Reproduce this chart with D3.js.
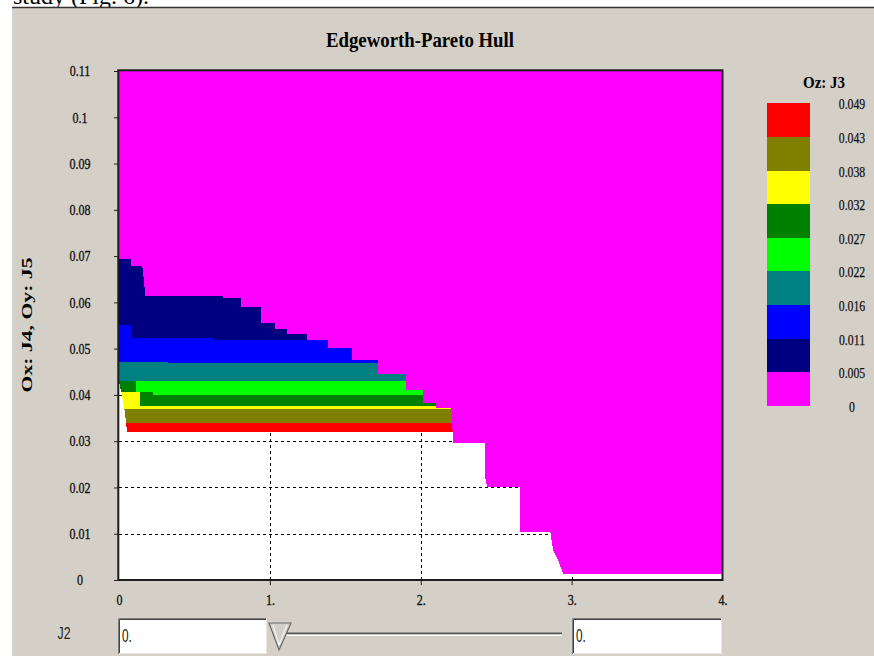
<!DOCTYPE html>
<html>
<head>
<meta charset="utf-8">
<script src="https://cdn.jsdelivr.net/npm/d3@7"></script>
<style>
  body { margin: 0; background: #fff; }
  svg { display: block; }
</style>
</head>
<body>
<svg id="chart" width="874" height="656"></svg>
<script>
// Oz: J3 levels, legend top to bottom
const levelLabels = ['0.049', '0.043', '0.038', '0.032', '0.027', '0.022', '0.016', '0.011', '0.005', '0'];
const levelColors = ['#ff0000', '#808000', '#ffff00', '#008000', '#00ff00', '#008080', '#0000ff', '#000080', '#ff00ff'];

const yTicks = [0, 0.01, 0.02, 0.03, 0.04, 0.05, 0.06, 0.07, 0.08, 0.09, 0.1, 0.11];
const yTickLabels = ['0', '0.01', '0.02', '0.03', '0.04', '0.05', '0.06', '0.07', '0.08', '0.09', '0.1', '0.11'];
const xTicks = [0, 1, 2, 3, 4];
const xTickLabels = ['0', '1.', '2.', '3.', '4.'];

// lower-left boundary of each hull, [J4, J5]
const redFront = [[0, 0.0427], [0.015, 0.0407], [0.036, 0.0369], [0.048, 0.0339], [0.052, 0.0320]];
const oliveFront = [[0, 0.0427], [0.015, 0.0407], [0.036, 0.0369], [0.048, 0.0339]];
const yellowFront = [[0, 0.0427], [0.015, 0.0407], [0.036, 0.0369]];
const greenFront = [[0, 0.0427], [0.015, 0.0407], [0.136, 0.0407], [0.140, 0.0376]];
const limeFront = [[0, 0.0429], [0.114, 0.0429], [0.114, 0.0407], [0.224, 0.0407], [0.224, 0.0400]];
const tealFront = [[0, 0.0429]];
const blueFront = [[0, 0.0472], [0.328, 0.0472], [0.328, 0.0468]];
const navyFront = [[0, 0.0551], [0.081, 0.0551], [0.084, 0.0523], [0.627, 0.0523], [0.627, 0.0519]];
const magentaFront = [
  [0, 0.0694], [0.081, 0.0694], [0.081, 0.0679], [0.154, 0.0679], [0.176, 0.0614],
  [0.689, 0.0614], [0.689, 0.0609], [0.810, 0.0609], [0.810, 0.0591], [0.943, 0.0591],
  [0.943, 0.0556], [1.031, 0.0556], [1.031, 0.0542], [1.113, 0.0542], [1.113, 0.0531],
  [1.245, 0.0531], [1.245, 0.0519], [1.385, 0.0519], [1.385, 0.0501], [1.546, 0.0501],
  [1.546, 0.0475], [1.716, 0.0475], [1.716, 0.0445], [1.900, 0.0445], [1.900, 0.0411],
  [2.015, 0.0411], [2.015, 0.0382], [2.103, 0.0382], [2.103, 0.0371], [2.203, 0.0371],
  [2.215, 0.0295], [2.424, 0.0295], [2.424, 0.0225], [2.440, 0.0202], [2.660, 0.0202],
  [2.660, 0.0104], [2.859, 0.0104], [2.877, 0.0065], [2.910, 0.0043], [2.943, 0.0014],
  [4, 0.0014],
];

// biggest hull first, each smaller one painted over it
const hulls = [redFront, oliveFront, yellowFront, greenFront, limeFront, tealFront, blueFront, navyFront, magentaFront]
  .map((front, i) => ({ front, color: levelColors[i] }));

const serif = 'Liberation Serif, Times New Roman, serif';
const sans = 'Liberation Sans, Arial, sans-serif';

function condense(sel, k) {
  sel.each(function () {
    const w = this.getComputedTextLength();
    d3.select(this).attr('textLength', w * k).attr('lengthAdjust', 'spacingAndGlyphs');
  });
}

const svg = d3.select('#chart');

// page strip above the window
svg.append('rect').attr('width', 874).attr('height', 656).attr('fill', '#fff');
svg.append('text')
  .attr('x', 13).attr('y', 4)
  .attr('font-family', serif).attr('font-size', 24)
  .text('study (Fig. 6).');
svg.append('rect')
  .attr('x', 12).attr('y', 8).attr('width', 862).attr('height', 648)
  .attr('fill', '#d4d0c8');
svg.append('line')
  .attr('x1', 12).attr('x2', 874).attr('y1', 7.5).attr('y2', 7.5)
  .attr('stroke', '#333').attr('stroke-width', 1.5);

const x = d3.scaleLinear().domain([0, 4]).range([119, 722.5]);
const y = d3.scaleLinear().domain([0, 0.11]).range([580, 71]);

svg.append('rect')
  .attr('x', x(0)).attr('y', y(0.11))
  .attr('width', x(4) - x(0)).attr('height', y(0) - y(0.11))
  .attr('fill', '#fff');

// dashed grid, mostly hidden under the hulls
const grid = svg.append('g')
  .attr('stroke', '#000').attr('stroke-width', 1).attr('stroke-dasharray', '3,3');
grid.selectAll('.vx')
  .data(xTicks.slice(1, -1))
  .join('line')
  .attr('x1', (d) => Math.round(x(d)) + 0.5).attr('x2', (d) => Math.round(x(d)) + 0.5)
  .attr('y1', y(0)).attr('y2', y(0.11));
grid.selectAll('.hy')
  .data(yTicks.slice(1, -1))
  .join('line')
  .attr('y1', (d) => Math.round(y(d)) + 0.5).attr('y2', (d) => Math.round(y(d)) + 0.5)
  .attr('x1', x(0)).attr('x2', x(4));

const line = d3.line().x((d) => x(d[0])).y((d) => y(d[1]));
svg.append('g')
  .selectAll('path')
  .data(hulls)
  .join('path')
  .attr('d', (d) => {
    const last = d.front[d.front.length - 1];
    return `${line([[0, 0.11], ...d.front, [4, last[1]], [4, 0.11]])}Z`;
  })
  .attr('fill', (d) => d.color)
  .attr('shape-rendering', 'crispEdges');

// axes
svg.append('g')
  .attr('transform', `translate(${x(0)},0)`)
  .call(d3.axisLeft(y).tickValues(yTicks).tickSize(5).tickFormat((d, i) => yTickLabels[i]))
  .call((g) => g.select('.domain').remove())
  .call((g) => g.selectAll('line').attr('stroke', '#222'))
  .call((g) => g.selectAll('text')
    .attr('x', -39).attr('text-anchor', 'middle')
    .attr('font-family', serif).attr('font-size', 15).attr('fill', '#111')
    .attr('stroke', '#111').attr('stroke-width', 0.35))
  .call((g) => condense(g.selectAll('text'), 0.8));

svg.append('g')
  .attr('transform', `translate(0,${y(0)})`)
  .call(d3.axisBottom(x).tickValues(xTicks).tickSize(5).tickFormat((d, i) => xTickLabels[i]))
  .call((g) => g.select('.domain').remove())
  .call((g) => g.selectAll('line').attr('stroke', '#222').attr('opacity', (d) => (d === 0 || d === 4 ? 0 : 1)))
  .call((g) => g.selectAll('text')
    .attr('y', 14)
    .attr('font-family', serif).attr('font-size', 15).attr('fill', '#111')
    .attr('stroke', '#111').attr('stroke-width', 0.35))
  .call((g) => condense(g.selectAll('text'), 0.8));

svg.append('rect')
  .attr('x', 118.3).attr('y', 70.3)
  .attr('width', 722.5 - 118.3).attr('height', 580 - 70.3)
  .attr('fill', 'none').attr('stroke', '#1c1c1c').attr('stroke-width', 2);

// titles
svg.append('text')
  .attr('x', 420).attr('y', 47)
  .attr('text-anchor', 'middle')
  .attr('font-family', serif).attr('font-size', 21).attr('font-weight', 'bold')
  .attr('textLength', 188).attr('lengthAdjust', 'spacingAndGlyphs')
  .text('Edgeworth-Pareto Hull');

svg.append('text')
  .attr('transform', 'translate(32,325) rotate(-90)')
  .attr('text-anchor', 'middle')
  .attr('font-family', serif).attr('font-size', 14).attr('font-weight', 'bold')
  .attr('textLength', 135).attr('lengthAdjust', 'spacingAndGlyphs')
  .text('Ox: J4,  Oy: J5');

// legend
const ly = d3.scaleLinear().domain([0, levelColors.length]).range([103.3, 406]);
const legend = svg.append('g');
legend.append('text')
  .attr('x', 824).attr('y', 88)
  .attr('text-anchor', 'middle')
  .attr('font-family', serif).attr('font-size', 16).attr('font-weight', 'bold')
  .attr('textLength', 42).attr('lengthAdjust', 'spacingAndGlyphs')
  .text('Oz: J3');
legend.selectAll('rect')
  .data(levelColors)
  .join('rect')
  .attr('x', 767).attr('width', 43)
  .attr('y', (d, i) => ly(i)).attr('height', ly(1) - ly(0))
  .attr('fill', (d) => d)
  .attr('shape-rendering', 'crispEdges');
legend.selectAll('.lab')
  .data(levelLabels)
  .join('text')
  .attr('x', 852).attr('y', (d, i) => ly(i) + 6)
  .attr('text-anchor', 'middle')
  .attr('font-family', serif).attr('font-size', 14).attr('fill', '#111')
  .attr('stroke', '#111').attr('stroke-width', 0.25)
  .text((d) => d)
  .call((s) => condense(s, 0.84));

// J2 slider row
svg.append('text')
  .attr('x', 64).attr('y', 639)
  .attr('text-anchor', 'middle')
  .attr('font-family', sans).attr('font-size', 17).attr('fill', '#222')
  .text('J2')
  .call((s) => condense(s, 0.72));

function textBox(x0, x1, value) {
  const g = svg.append('g');
  g.append('rect').attr('x', x0).attr('y', 618).attr('width', x1 - x0).attr('height', 36).attr('fill', '#fff');
  g.append('path').attr('d', `M${x0 + 0.5},654V618.5H${x1}`).attr('fill', 'none').attr('stroke', '#808080');
  g.append('path').attr('d', `M${x0 + 1.5},653V619.5H${x1 - 1}`).attr('fill', 'none').attr('stroke', '#404040');
  g.append('path').attr('d', `M${x0 + 1},653.5H${x1 - 0.5}V618`).attr('fill', 'none').attr('stroke', '#e8e6e0');
  g.append('text')
    .attr('x', x0 + 4).attr('y', 642)
    .attr('font-family', sans).attr('font-size', 19).attr('fill', '#111')
    .text(value)
    .call((s) => condense(s, 0.62));
}
textBox(118, 267, '0.');
textBox(572, 722, '0.');

svg.append('rect').attr('x', 287).attr('y', 632.5).attr('width', 275).attr('height', 2).attr('fill', '#555');
svg.append('rect').attr('x', 287).attr('y', 634.5).attr('width', 275).attr('height', 1.5).attr('fill', '#fff');
svg.append('path')
  .attr('d', 'M269,623H291L279,650Z')
  .attr('fill', '#d4d0c8').attr('stroke', '#6a6a6a').attr('stroke-width', 1.2);
svg.append('path')
  .attr('d', 'M273,625L279,645L287,625')
  .attr('fill', 'none').attr('stroke', '#fff').attr('stroke-width', 1);
</script>
</body>
</html>
